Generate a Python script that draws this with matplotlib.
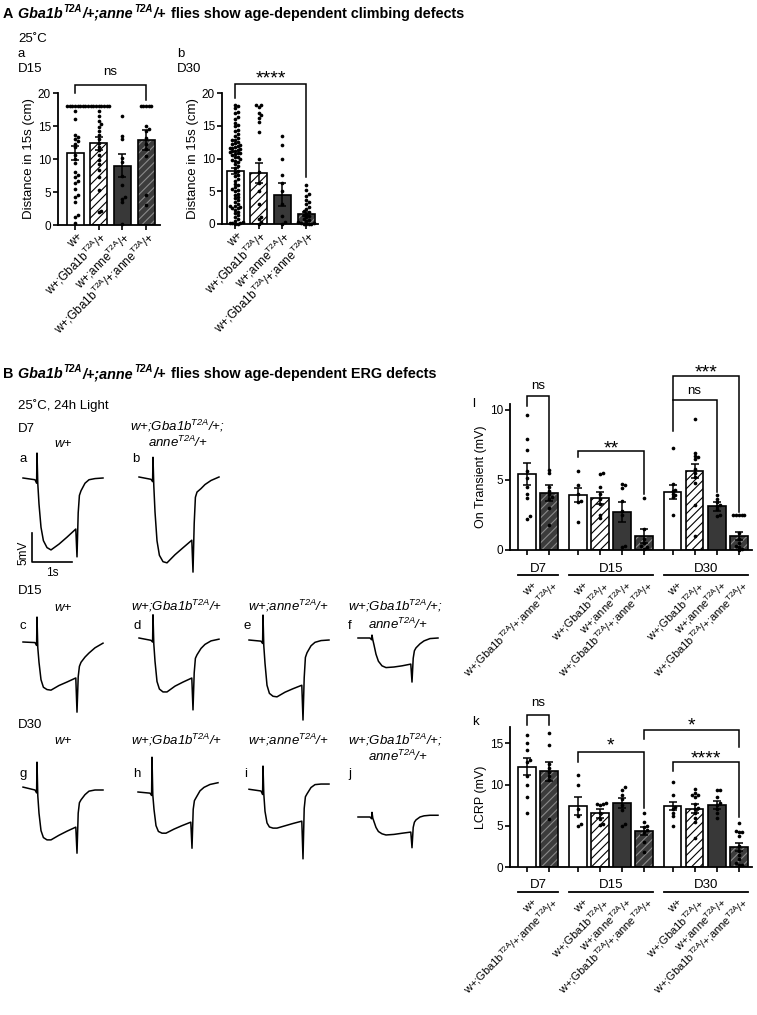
import numpy as np
import matplotlib
matplotlib.use('Agg')
import matplotlib.pyplot as plt
from matplotlib.transforms import ScaledTranslation

plt.rcParams['font.family'] = ['Liberation Sans', 'DejaVu Sans']
plt.rcParams['mathtext.fontset'] = 'custom'
plt.rcParams['mathtext.rm'] = 'Liberation Sans'
plt.rcParams['mathtext.it'] = 'Liberation Sans:italic'
plt.rcParams['mathtext.bf'] = 'Liberation Sans:bold'
plt.rcParams['mathtext.default'] = 'regular'
plt.rcParams['hatch.linewidth'] = 0.8

W, H = 757, 1015

# genotype labels
GBA = 'w+;Gba1b$^{T2A}$/+'
ANNE = 'w+;anne$^{T2A}$/+'
DBL = 'w+;Gba1b$^{T2A}$/+;anne$^{T2A}$/+'

# ---- A: climbing (distance in 15 s, cm) ----
climb_labels = ['w+', GBA, ANNE, DBL]
climb_kinds = ['wt', 'gba', 'anne', 'dbl']

d15_means = [10.9, 12.4, 9.0, 12.9]
d15_sems = [1.1, 1.0, 1.8, 1.5]
d15_wt = [18, 18, 18, 18, 18, 18, 18, 18, 17.3, 16.0, 13.6, 13.3, 13.0, 12.7, 12.3, 11.8,
          10.6, 10.0, 9.4, 8.1, 7.6, 7.2, 6.6, 6.3, 5.5, 4.6, 4.2, 3.5, 1.5, 1.2, 0.3]
d15_gba = [18, 18, 18, 18, 18, 18, 18, 18, 18, 17.2, 16.5, 15.8, 15.3, 14.9, 14.3, 13.6,
           13.0, 12.4, 11.8, 11.3, 10.6, 9.9, 9.2, 8.4, 7.3, 5.3, 2.1, 1.9]
d15_anne = [16.5, 13.5, 13.0, 10.2, 9.5, 7.5, 6.0, 4.2, 4.0, 3.5, 0.2]
d15_dbl = [18, 18, 18, 18, 18, 15.0, 14.6, 14.3, 13.2, 12.3, 11.5, 10.5, 4.5, 3.0]

d30_means = [8.1, 7.8, 4.5, 1.5]
d30_sems = [0.5, 1.5, 1.7, 0.3]
d30_wt = [18.2, 18.0, 17.7, 17.1, 16.9, 16.3, 16.0, 15.4, 15.1, 14.9, 14.4, 14.2, 13.7, 13.5,
          13.2, 12.9, 12.8, 12.5, 12.3, 12.2, 11.9, 11.8, 11.6, 11.5, 11.3, 11.2, 11.1, 10.9,
          10.8, 10.6, 10.3, 10.2, 9.9, 9.6, 9.5, 9.1, 8.8, 8.6, 8.1, 7.9, 7.5, 7.4, 6.9, 6.6,
          6.1, 5.9, 5.6, 5.2, 5.0, 4.6, 4.5, 4.1, 3.9, 3.6, 3.3, 3.1, 2.8, 2.7, 2.5, 2.4,
          2.2, 1.9, 1.7, 1.4, 1.1, 0.8, 0.5, 0.3, 0.2, 0.1, 0.0, 0.0, 11.6, 11.0, 10.7, 12.0,
          9.8, 5.4, 2.6, 0.1]
d30_gba = [18.2, 18.1, 17.9, 16.9, 16.6, 16.2, 15.5, 14.0, 10.0, 8.0, 6.3, 5.0, 3.0, 1.0,
           0.8, 0.3, 0.0]
d30_anne = [13.5, 12.0, 10.0, 7.5, 6.2, 5.0, 3.0, 1.2, 0.3, 0.0]
d30_dbl = [6.0, 5.2, 4.6, 4.3, 3.7, 3.4, 3.0, 2.6, 2.3, 2.0, 1.8, 1.6, 1.4, 1.2, 1.0, 0.8,
           0.6, 0.5, 0.3, 0.2, 0.1, 0.0, 0.0, 0.0, 0.0]

# ---- B: ERG traces (time in s, voltage in mV relative to baseline) ----
erg_t = [-0.35, -0.05, -0.01, 0.0, 0.02, 0.05, 0.10, 0.16, 0.25, 0.35, 0.55, 0.75, 0.97,
         1.0, 1.03, 1.06, 1.1, 1.2, 1.3, 1.45, 1.65]
erg_a = [0.0, -0.3, -0.9, 4.3, -1.0, -4.5, -8.5, -10.8, -12.0, -12.4, -11.4, -10.2, -8.8,
         -13.6, -6.0, -3.0, -2.2, -0.9, -0.3, -0.1, 0.0]
erg_b = [0.0, -0.4, -0.8, 3.4, -1.5, -6.0, -11.0, -13.5, -14.6, -14.8, -13.4, -12.2, -10.9,
         -16.4, -8.0, -3.5, -2.6, -2.0, -1.3, -0.6, 0.0]
erg_c = [0.0, -0.1, -0.6, 4.3, -1.0, -3.5, -6.5, -7.8, -8.2, -8.3, -7.5, -6.9, -6.2,
         -12.1, -6.0, -4.2, -3.5, -2.6, -1.9, -1.0, -0.2]
erg_d = [0.0, -0.4, -0.7, 4.0, -1.0, -4.0, -7.5, -8.8, -9.3, -9.3, -8.3, -7.6, -6.9,
         -12.4, -6.0, -3.5, -2.9, -1.8, -1.1, -0.5, -0.2]
erg_e = [0.0, -0.2, -0.6, 4.3, -1.0, -4.0, -7.8, -9.2, -9.7, -9.8, -9.0, -8.4, -7.8,
         -13.8, -6.5, -3.0, -2.2, -1.0, -0.4, -0.1, 0.0]
erg_f = [0.0, 0.0, -0.3, 0.5, -0.3, -1.2, -2.8, -4.0, -4.8, -5.1, -5.0, -4.8, -4.5,
         -7.6, -3.5, -2.2, -1.7, -1.0, -0.5, -0.1, 0.0]
erg_g = [0.5, 0.0, -0.5, 4.8, -1.0, -4.0, -7.0, -8.2, -8.6, -8.6, -7.8, -7.1, -6.4,
         -10.9, -4.0, -2.2, -1.7, -0.8, -0.2, 0.0, 0.0]
erg_h = [0.0, -0.2, -0.6, 6.0, -0.5, -3.0, -5.8, -6.8, -7.1, -7.1, -6.4, -5.8, -5.2,
         -9.7, -3.0, -1.5, -1.0, 0.2, 0.8, 1.3, 1.6]
erg_i = [0.3, 0.0, -0.6, 4.3, -0.5, -3.5, -5.5, -6.2, -6.4, -6.4, -6.0, -5.6, -5.2,
         -11.7, -3.0, -1.0, -0.5, 0.6, 1.1, 1.2, 1.2]
erg_j = [0.0, 0.0, -0.3, 0.8, -0.2, -0.8, -1.8, -2.5, -2.9, -3.1, -3.0, -2.8, -2.6,
         -5.3, -1.8, -0.9, -0.5, 0.0, 0.2, 0.3, 0.3]
erg_traces = {'a': erg_a, 'b': erg_b, 'c': erg_c, 'd': erg_d, 'e': erg_e,
              'f': erg_f, 'g': erg_g, 'h': erg_h, 'i': erg_i, 'j': erg_j}

# ---- B l/k: ERG quantification ----
erg_groups = ['D7', 'D15', 'D30']
erg_labels = ['w+', DBL, 'w+', GBA, ANNE, DBL, 'w+', GBA, ANNE, DBL]
erg_kinds = ['wt', 'dbl', 'wt', 'gba', 'anne', 'dbl', 'wt', 'gba', 'anne', 'dbl']

on_means = [5.4, 4.05, 3.95, 3.7, 2.7, 1.0, 4.15, 5.6, 3.1, 1.0]
on_sems = [0.8, 0.55, 0.5, 0.45, 0.7, 0.5, 0.5, 0.5, 0.3, 0.3]
on_dots = [
    [9.6, 7.9, 7.1, 5.6, 5.1, 4.5, 4.0, 3.7, 2.4, 2.2],
    [5.7, 5.5, 4.5, 4.2, 4.0, 3.8, 3.6, 3.0, 1.8],
    [5.6, 4.6, 4.0, 3.5, 3.4, 2.0],
    [5.5, 5.4, 4.5, 4.0, 3.6, 3.3, 2.5, 2.3],
    [4.7, 4.6, 4.4, 3.5, 2.8, 2.5, 0.3, 0.2],
    [3.7, 1.5, 0.8, 0.5, 0.3, 0.2, 0.1],
    [7.3, 4.7, 4.3, 4.2, 4.0, 3.9, 3.8, 2.5],
    [9.3, 6.9, 6.7, 6.6, 6.5, 5.8, 5.5, 5.2, 4.8, 3.2, 1.0],
    [3.9, 3.6, 3.4, 3.2, 3.1, 2.9, 2.5, 2.4],
    [2.5, 2.5, 2.5, 2.5, 2.5, 1.2, 0.8, 0.5, 0.3, 0.2, 0.1, 0.0],
]

lcrp_means = [12.2, 11.6, 7.4, 6.5, 7.8, 4.4, 7.4, 7.1, 7.5, 2.4]
lcrp_sems = [1.0, 1.2, 1.1, 0.5, 0.6, 0.5, 0.5, 0.5, 0.5, 0.5]
lcrp_dots = [
    [16.0, 15.0, 14.2, 13.0, 12.7, 11.0, 10.0, 8.5, 6.5],
    [16.3, 14.8, 12.5, 12.0, 11.5, 11.0, 10.6, 5.8],
    [11.2, 10.0, 7.0, 6.2, 5.2, 5.0],
    [7.8, 7.6, 7.6, 7.5, 6.5, 5.8, 5.2, 5.1],
    [9.7, 9.4, 8.7, 8.3, 7.5, 6.9, 5.2, 5.0],
    [6.5, 5.5, 5.0, 4.8, 4.5, 4.2, 3.0, 1.8],
    [10.3, 8.7, 7.3, 7.0, 6.6, 6.2, 5.0],
    [9.5, 9.0, 8.8, 8.7, 8.5, 7.6, 7.2, 7.0, 6.6, 6.0, 5.5, 3.5],
    [9.4, 9.3, 8.5, 7.8, 7.5, 7.0, 6.5, 6.0],
    [5.3, 4.4, 4.3, 4.2, 3.8, 2.5, 2.0, 1.5, 1.0, 0.5, 0.3, 0.2],
]

# layout / style
BAR_STYLE = {'wt': ('white', None, None), 'gba': ('white', '////', 'black'),
             'anne': ('#383838', None, None), 'dbl': ('#3c3c3c', '////', '#8a8a8a')}
erg_pos = [0, 1, 2.3, 3.3, 4.3, 5.3, 6.6, 7.6, 8.6, 9.6]
erg_group_idx = [(0, 1), (2, 5), (6, 9)]
PXS, PXMV = 40.0, 5.8   # px per second, px per mV
ERG_ORIGIN = {'a': (37, 478), 'b': (153, 477), 'c': (37, 642), 'd': (153, 638),
              'e': (263, 640), 'f': (372, 638), 'g': (37, 790), 'h': (152, 792),
              'i': (263, 791), 'j': (372, 817)}

fig = plt.figure(figsize=(W / 100, H / 100), dpi=100)


def px_axes(x0, y0, x1, y1):
    return fig.add_axes([x0 / W, 1 - y1 / H, (x1 - x0) / W, (y1 - y0) / H])


def ftext(x, y, s, **kw):
    kw.setdefault('va', 'baseline')
    kw.setdefault('fontsize', 9.5)
    return fig.text(x / W, 1 - y / H, s, **kw)


def swarm(vals, dx, dy):
    vals = np.asarray(vals, float)
    offs = np.zeros(len(vals))
    placed = []
    for i in np.argsort(vals, kind='stable'):
        v = vals[i]
        k = 0
        found = None
        while found is None:
            cands = [0.0] if k == 0 else [k * dx, -k * dx]
            for c in cands:
                if all(abs(c - px) >= dx * 0.99 or abs(v - py) >= dy for px, py in placed):
                    found = c
                    break
            k += 1
        offs[i] = found
        placed.append((found, v))
    return offs


def draw_bars(ax, pos, means, sems, dots, kinds, width, dx, dy):
    for p, m, e, d, kd in zip(pos, means, sems, dots, kinds):
        face, hatch, hcol = BAR_STYLE[kd]
        if hatch:
            ax.bar(p, m, width, facecolor=face, edgecolor=hcol, hatch=hatch, linewidth=0, zorder=2)
            ax.bar(p, m, width, facecolor='none', edgecolor='black', linewidth=1.2, zorder=3)
        else:
            ax.bar(p, m, width, facecolor=face, edgecolor='black', linewidth=1.2, zorder=3)
        off = swarm(d, dx, dy)
        ax.scatter(p + off, d, s=7, color='black', linewidths=0, zorder=4, clip_on=False)
        ax.errorbar(p, m, yerr=e, fmt='none', ecolor='black', elinewidth=1.1,
                    capsize=3, capthick=1.1, zorder=5)


def style_axis(ax, xlim, ylim, yticks):
    ax.set_xlim(*xlim)
    ax.set_ylim(*ylim)
    ax.set_yticks(yticks)
    for s in ['top', 'right']:
        ax.spines[s].set_visible(False)
    for s in ['left', 'bottom']:
        ax.spines[s].set_linewidth(1.3)
    ax.tick_params(width=1.2, length=3.5, labelsize=8.5, pad=1.5)


def bracket(ax, x1, x2, ytop, y1, y2, label, ylab):
    ax.plot([x1, x1, x2, x2], [y1, ytop, ytop, y2], color='black', lw=1.1,
            clip_on=False, solid_joinstyle='miter')
    fs, shift = (14, 0.58) if '*' in label else (9.5, 0.25)
    ax.annotate(label, ((x1 + x2) / 2, ylab), xytext=(0, -shift * fs),
                textcoords='offset points', ha='center', va='baseline',
                fontsize=fs, annotation_clip=False)


def shift_labels(ax, dx_px, dy_px=0):
    off = ScaledTranslation(dx_px / 100, dy_px / 100, fig.dpi_scale_trans)
    for lab in ax.get_xticklabels():
        lab.set_transform(lab.get_transform() + off)


def rich(x, y, parts, size):
    r = fig.canvas.get_renderer()
    cx = x
    for s, it, sup in parts:
        fs = size * 0.68 if sup else size
        dy = size * 0.45 * 100 / 72 if sup else 0
        t = fig.text(cx / W, 1 - (y - dy) / H, s, fontsize=fs, weight='bold',
                     style='italic' if it else 'normal', va='baseline', ha='left')
        cx += t.get_window_extent(r).width + (1.5 if sup else 0.5)


# ---------- Panel A ----------
rich(3, 18, [('A', False, False), (' Gba1b', True, False), ('T2A', True, True),
             ('/+;anne', True, False), ('T2A', True, True), ('/+', True, False),
             (' flies show age-dependent climbing defects', False, False)], 10.4)
ftext(18, 41.5, '25˚C')
ftext(18, 57, 'a')
ftext(18, 72.5, 'D15')
ftext(177, 57, 'b')
ftext(177, 72.5, 'D30')

climb_pos = np.arange(4)
ax_a = px_axes(58, 93, 160, 225)
draw_bars(ax_a, climb_pos, d15_means, d15_sems,
          [d15_wt, d15_gba, d15_anne, d15_dbl], climb_kinds, 0.72, 0.11, 0.42)
style_axis(ax_a, (-0.72, 3.59), (0, 20), [0, 5, 10, 15, 20])
ax_a.set_ylabel('Distance in 15s (cm)', fontsize=9.5, labelpad=2)
ax_a.set_xticks(climb_pos, climb_labels, rotation=45, ha='right', va='center',
                rotation_mode='anchor', fontsize=8.5)
ax_a.tick_params(axis='x', pad=4)
shift_labels(ax_a, 6)
bracket(ax_a, 0, 3, 21.2, 20.0, 19.0, 'ns', 23.2)

ax_b = px_axes(222, 93, 318, 224)
draw_bars(ax_b, climb_pos, d30_means, d30_sems,
          [d30_wt, d30_gba, d30_anne, d30_dbl], climb_kinds, 0.72, 0.11, 0.42)
style_axis(ax_b, (-0.55, 3.5), (0, 20), [0, 5, 10, 15, 20])
ax_b.set_ylabel('Distance in 15s (cm)', fontsize=9.5, labelpad=2)
ax_b.set_xticks(climb_pos, climb_labels, rotation=45, ha='right', va='center',
                rotation_mode='anchor', fontsize=8.5)
ax_b.tick_params(axis='x', pad=4)
shift_labels(ax_b, 6)
bracket(ax_b, 0, 3, 21.4, 19.2, 7.2, '****', 23.2)

# ---------- Panel B: traces ----------
rich(3, 378, [('B', False, False), (' Gba1b', True, False), ('T2A', True, True),
              ('/+;anne', True, False), ('T2A', True, True), ('/+', True, False),
              (' flies show age-dependent ERG defects', False, False)], 10.4)
ftext(18, 409.5, '25˚C, 24h Light')
ftext(18, 431.5, 'D7')
ftext(18, 594.5, 'D15')
ftext(18, 727.5, 'D30')

it = dict(style='italic', ha='center')
ftext(63, 447, 'w+', **it)
ftext(130, 431, 'w+;Gba1b$^{T2A}$/+;', style='italic')
ftext(148, 447, 'anne$^{T2A}$/+', style='italic')
for yb in (611, 744):
    ftext(63, yb, 'w+', **it)
    ftext(177, yb, GBA, **it)
    ftext(288, yb, ANNE, **it)
    ftext(348, yb, 'w+;Gba1b$^{T2A}$/+;', style='italic')
ftext(368, 629, 'anne$^{T2A}$/+', style='italic')
ftext(368, 761, 'anne$^{T2A}$/+', style='italic')
for letter, (lx, ly) in {'a': (20, 462), 'b': (132, 462), 'c': (20, 629), 'd': (133, 629),
                         'e': (244, 629), 'f': (348, 629), 'g': (20, 777), 'h': (133, 777),
                         'i': (244, 777), 'j': (348, 777)}.items():
    ftext(lx, ly, letter)

for key, volts in erg_traces.items():
    ox, by = ERG_ORIGIN[key]
    ax = px_axes(ox - 0.4 * PXS, by - 7 * PXMV, ox + 1.75 * PXS, by + 18 * PXMV)
    ax.set_xlim(-0.4, 1.75)
    ax.set_ylim(-18, 7)
    ax.axis('off')
    ax.plot(erg_t, volts, color='black', lw=1.1)
    if key == 'a':
        ax.plot([-0.125, -0.125, 0.875], [-9.5, -14.5, -14.5], color='black', lw=1.2,
                clip_on=False)
        ax.text(-0.33, -12.9, '5mV', rotation=90, ha='center', va='center', fontsize=8.5)
        ax.text(0.375, -16.3, '1s', ha='center', va='center', fontsize=8.5)

# ---------- Panel B l / k ----------


def erg_panel(top, bottom, means, sems, dots, ylim, yticks, ylabel, dy):
    ax = px_axes(510, top, 752, bottom)
    draw_bars(ax, erg_pos, means, sems, dots, erg_kinds, 0.8, 0.13, dy)
    style_axis(ax, (-0.77, 10.2), ylim, yticks)
    ax.set_ylabel(ylabel, fontsize=9, labelpad=2)
    ax.set_xticks(erg_pos, erg_labels, rotation=45, ha='right', va='center',
                  rotation_mode='anchor', fontsize=8)
    ax.tick_params(axis='x', pad=21)
    shift_labels(ax, 8)
    hpx = bottom - top
    tr = ax.get_xaxis_transform()
    for name, (i0, i1) in zip(erg_groups, erg_group_idx):
        x0, x1 = erg_pos[i0] - 0.4, erg_pos[i1] + 0.4
        ax.plot([x0, x1], [-25 / hpx, -25 / hpx], transform=tr, color='black', lw=1.3,
                clip_on=False)
        ax.text((x0 + x1) / 2, -21.5 / hpx, name, transform=tr, ha='center',
                va='baseline', fontsize=9.5)
    return ax


ax_l = erg_panel(404, 550, on_means, on_sems, on_dots, (0, 10.4), [0, 5, 10],
                 'On Transient (mV)', 0.2)
ftext(472, 407, 'l')
bracket(ax_l, 0, 1, 10.94, 10.29, 5.76, 'ns', 11.7)
bracket(ax_l, 2.3, 5.3, 7.05, 6.62, 3.96, '**', 7.7)
bracket(ax_l, 6.6, 9.6, 12.37, 8.49, 2.73, '***', 13.1)
bracket(ax_l, 6.6, 8.6, 10.72, 10.72, 4.1, 'ns', 11.37)

ax_k = erg_panel(727, 867, lcrp_means, lcrp_sems, lcrp_dots, (0, 17), [0, 5, 10, 15],
                 'LCRP (mV)', 0.34)
ftext(472, 725, 'k')
bracket(ax_k, 0, 1, 18.5, 17.3, 17.3, 'ns', 20.0)
bracket(ax_k, 2.3, 5.3, 14.0, 12.8, 7.2, '*', 15.5)
bracket(ax_k, 5.3, 9.6, 16.6, 15.5, 14.6, '*', 17.9)
bracket(ax_k, 6.6, 9.6, 12.7, 11.6, 6.1, '****', 13.9)

fig.savefig('out.png', dpi=100, facecolor='white')
